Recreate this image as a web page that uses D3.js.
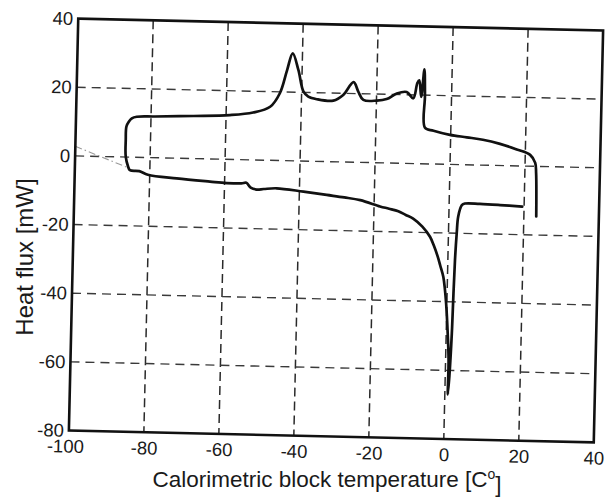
<!DOCTYPE html>
<html>
<head>
<meta charset="utf-8">
<script src="https://cdn.jsdelivr.net/npm/d3@7"></script>
<style>
  html, body { margin: 0; padding: 0; background: #fff; }
  svg { display: block; }
  text { font-family: "Liberation Sans", Arial, Helvetica, sans-serif; fill: #1a1a1a; }
</style>
</head>
<body>
<svg id="chart" width="606" height="504"></svg>
<script>
// DSC loop: calorimetric block temperature (°C) vs heat flux (mW), in path order
const temperature = [
  19.5, 13.6, 8.2, 4.2, 3.4, 2.5, 2.2, 1.9, 1.7, 1.5, 1.1, 0.8,
  0.8, 0.4, -0.2, -0.6, -1.1, -2.0, -2.7, -3.8, -4.9, -7.0, -9.5, -11.5, -13.5, -16.0,
  -18.4, -23.7, -28.0, -32.7, -38.9, -46.1,
  -49.5, -51.4, -53.0, -54.2, -55.5, -59.4, -63.9, -72.8, -80.5, -82.8, -85.3,
  -85.8, -86.5, -86.6, -86.5, -85.9, -85.1, -83.8, -79.0, -68.7, -59.0, -52.8,
  -48.3, -45.8, -44.0, -42.6, -41.0, -39.5, -38.2, -35.9, -31.5, -28.9, -26.2,
  -24.9, -23.5, -19.9, -17.3, -14.6, -12.0, -10.2, -9.2, -8.7, -8.1, -7.4, -7.1,
  -6.9, -4.6, -0.2, 4.3, 8.6, 13.2, 17.7, 21.3, 22.7, 23.0, 23.3
];
const heatFlux = [
  -11.8, -11.5, -11.3, -11.3, -11.8, -15.1, -20.0, -27.8, -37.5, -49.2, -61.8, -67.0,
  -57.0, -49.2, -40.5, -36.5, -32.8, -29.5, -27.0, -23.8, -21.2, -18.3, -16.0, -15.0, -14.0, -13.3,
  -12.7, -11.0, -10.3, -9.7, -8.9, -8.1,
  -8.4, -8.6, -8.1, -6.7, -6.9, -6.9, -6.6, -5.9, -5.0, -4.0, -3.8,
  -2.8, 0.1, 5.0, 8.9, 10.3, 11.3, 11.8, 12.0, 12.4, 12.9, 13.8,
  15.6, 19.6, 26.4, 31.3, 26.5, 20.2, 18.8, 18.1, 17.8, 19.5, 23.3,
  20.6, 18.2, 18.1, 18.6, 20.3, 20.8, 19.0, 23.5, 24.3, 19.5, 27.5, 20.0,
  10.5, 9.7, 8.6, 8.0, 7.4, 6.3, 4.8, 3.3, 1.0, -1.9, -14.6
];

// faint extrapolated baseline at the low-temperature end
const baselineT = [-100, -85.6];
const baselineQ = [2.8, -3.2];

const xTicks = [-100, -80, -60, -40, -20, 0, 20, 40];
const yTicks = [40, 20, 0, -20, -40, -60, -80];
const xGrid = [-80, -60, -40, -20, 0, 20];
const yGrid = [20, 0, -20, -40, -60];

const xTitle = "Calorimetric block temperature [C";
const xTitleSup = "o";
const yTitle = "Heat flux [mW]";

const svg = d3.select("#chart");
svg.append("rect").attr("width", 606).attr("height", 504).attr("fill", "#fff");

const plot = { left: 73.5, top: 24.5, width: 525, height: 412 };
const cx = plot.left + plot.width / 2, cy = plot.top + plot.height / 2;

const x = d3.scaleLinear().domain([-100, 40]).range([plot.left, plot.left + plot.width]);
const y = d3.scaleLinear().domain([-80, 40]).range([plot.top + plot.height, plot.top]);

// the whole plate sits slightly turned
const g = svg.append("g").attr("transform", `rotate(1.3, ${cx}, ${cy})`);

// dashed grid
g.append("g").selectAll("line").data(xGrid).join("line")
  .attr("x1", d => x(d)).attr("x2", d => x(d))
  .attr("y1", y(40)).attr("y2", y(-80))
  .attr("stroke", "#2a2a2a").attr("stroke-width", 1.5)
  .attr("stroke-dasharray", "9,5");
g.append("g").selectAll("line").data(yGrid).join("line")
  .attr("x1", x(-100)).attr("x2", x(40))
  .attr("y1", d => y(d)).attr("y2", d => y(d))
  .attr("stroke", "#3a3a3a").attr("stroke-width", 1.4)
  .attr("stroke-dasharray", "9,6");

// baseline extrapolation
g.append("path")
  .datum(d3.zip(baselineT, baselineQ))
  .attr("d", d3.line().x(d => x(d[0])).y(d => y(d[1])))
  .attr("fill", "none").attr("stroke", "#9a9a9a").attr("stroke-width", 1.1)
  .attr("stroke-dasharray", "7,3,1.5,3");

// measured curve
g.append("path")
  .datum(d3.zip(temperature, heatFlux))
  .attr("d", d3.line().x(d => x(d[0])).y(d => y(d[1])).curve(d3.curveCatmullRom.alpha(0.5)))
  .attr("fill", "none").attr("stroke", "#111").attr("stroke-width", 2.7)
  .attr("stroke-linejoin", "round").attr("stroke-linecap", "round");

// frame
g.append("rect")
  .attr("x", plot.left).attr("y", plot.top)
  .attr("width", plot.width).attr("height", plot.height)
  .attr("fill", "none").attr("stroke", "#111").attr("stroke-width", 2.6);

// tick labels via axes (no tick marks, no domain line), plain hyphen minus
const fmt = d => String(d);
const xAxis = d3.axisBottom(x).tickValues(xTicks).tickSize(0).tickPadding(9).tickFormat(fmt);
const yAxis = d3.axisLeft(y).tickValues(yTicks).tickSize(0).tickPadding(5).tickFormat(fmt);

const gx = g.append("g").attr("transform", `translate(0, ${plot.top + plot.height})`).call(xAxis);
const gy = g.append("g").attr("transform", `translate(${plot.left}, 0)`).call(yAxis);
[gx, gy].forEach(a => {
  a.select(".domain").remove();
  a.selectAll("text")
    .style("font-family", '"Liberation Sans", Arial, sans-serif')
    .style("font-size", "18.5px").attr("fill", "#1a1a1a");
});
gx.selectAll(".tick text").filter(d => d === -100).attr("dx", "-0.2em");

// axis titles
const xt = svg.append("text")
  .attr("x", 327).attr("y", 487)
  .attr("text-anchor", "middle")
  .style("font-size", "22.5px");
xt.append("tspan").text(xTitle);
xt.append("tspan").text(xTitleSup).attr("dy", "-0.55em").style("font-size", "14px");
xt.append("tspan").text("]").attr("dy", "0.55em");

svg.append("text")
  .attr("transform", "translate(33, 257) rotate(-90)")
  .attr("text-anchor", "middle")
  .style("font-size", "24px")
  .text(yTitle);
</script>
</body>
</html>
